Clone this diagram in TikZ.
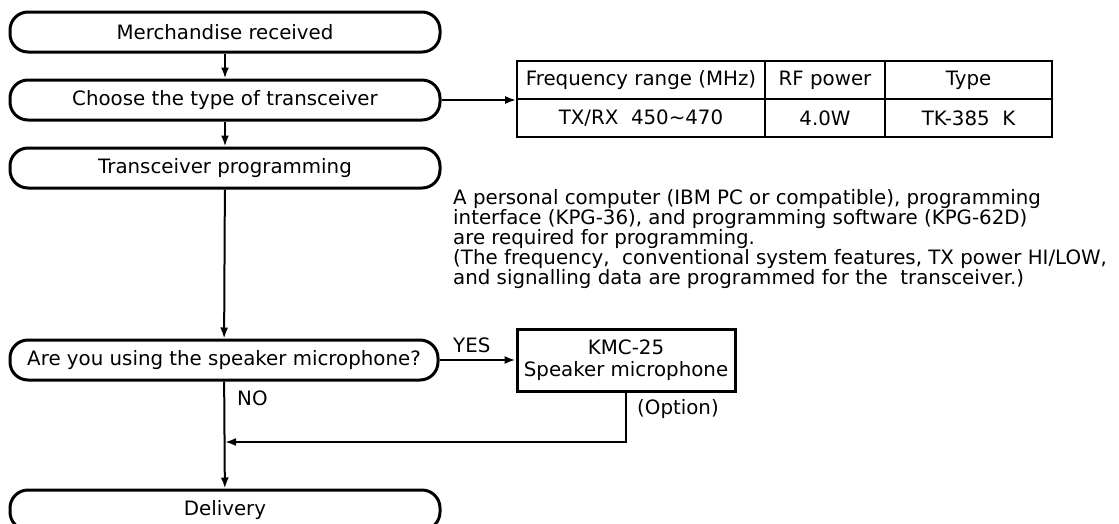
\documentclass[tikz,border=0pt]{standalone}
\usepackage{fontspec}
\setmainfont{DejaVu Sans}
\usetikzlibrary{arrows.meta,calc}

\begin{document}
\begin{tikzpicture}[
  x=1pt, y=-1pt,
  every node/.style = {font=\fontsize{19.8}{22}\selectfont, inner sep=1pt},
  stadium/.style = {shape=rectangle, rounded corners=18pt, draw, line width=3pt,
                    minimum width=430pt, minimum height=40pt},
  optbox/.style = {shape=rectangle, draw, line width=3pt, align=center,
                   minimum width=218pt, minimum height=62pt},
  cell/.style = {shape=rectangle, draw, line width=1.8pt, minimum height=38pt},
  arr/.style = {line width=2pt, -{Latex[length=11pt,width=8pt]}}
]
  \useasboundingbox (0,0) rectangle (1119,523);

  \node[stadium] (recv)   at (225,32)  {Merchandise received};
  \node[stadium] (choose) at (225,100) {Choose the type of transceiver};
  \node[stadium] (prog)   at (225,168) {Transceiver programming};
  \node[stadium, minimum width=428pt] (ask) at (224,360) {Are you using the speaker microphone?};
  \node[stadium] (deliv)  at (225,510) {Delivery};

  \node[cell, minimum width=248pt] (tfreq)  at (641,80)    {Frequency range (MHz)};
  \node[cell, minimum width=120pt] (tpower) at (825,80)    {RF power};
  \node[cell, minimum width=167pt] (ttype)  at (968.5,80)  {Type};
  \node[cell, minimum width=248pt] (vfreq)  at (641,118)   {TX/RX\ \ 450\char`~470};
  \node[cell, minimum width=120pt] (vpower) at (825,118)   {4.0W};
  \node[cell, minimum width=167pt] (vtype)  at (968.5,118) {TK-385\ \ K};

  \node[anchor=north west, align=left, inner sep=0pt,
        font=\fontsize{19.8}{18.6}\selectfont] (note) at (453,189)
    {A personal computer (IBM PC or compatible), programming\\
     interface (KPG-36), and programming software (KPG-62D)\\
     are required for programming.\\
     (The frequency,\ \ conventional system features, TX power HI/LOW,\\
     and signalling data are programmed for the\ \ transceiver.)};

  \node[optbox] (kmc) at (626,360) {KMC-25\\Speaker microphone};

  \node[anchor=west] (yes)    at (452,345) {YES};
  \node[anchor=west] (no)     at (236,398) {NO};
  \node[anchor=west] (option) at (636,409) {(Option)};

  \coordinate (join) at (225,442);

  \draw[arr] (recv) -- (choose);
  \draw[arr] (choose) -- (prog);
  \draw[arr] (prog) -- (ask);
  \draw[arr] (ask) -- (deliv);
  \draw[arr] (choose.east) -- (choose.east -| tfreq.west);
  \draw[arr] (ask.east) -- (ask.east -| kmc.west);
  \draw[arr] (kmc.south) |- (join);
\end{tikzpicture}
\end{document}
